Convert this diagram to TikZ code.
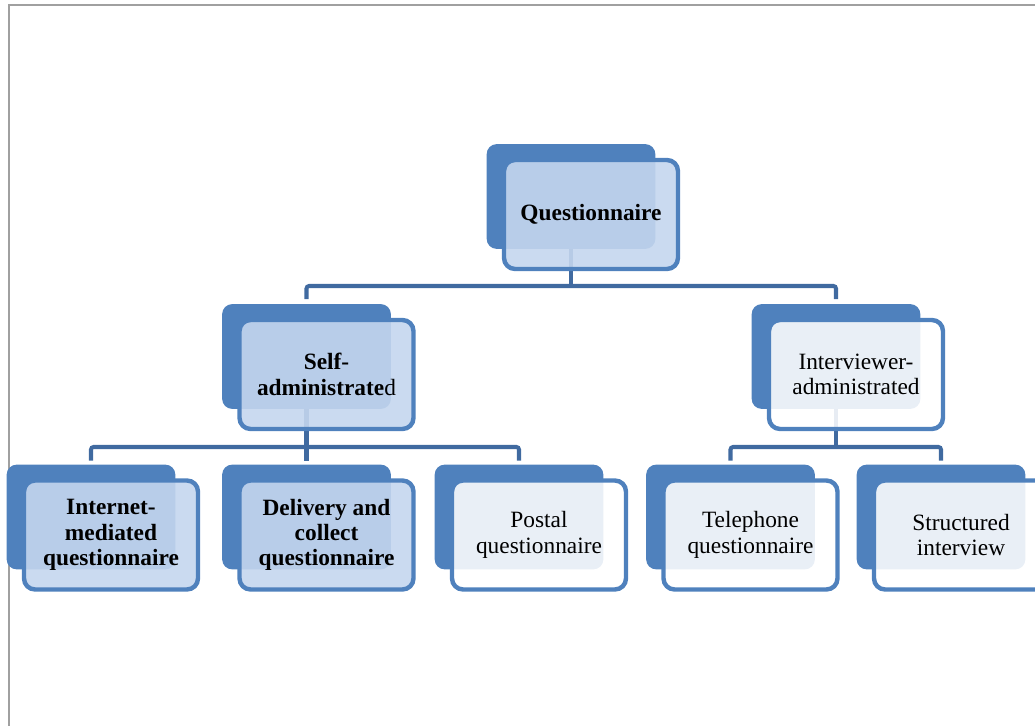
\documentclass[tikz,border=0pt]{standalone}
\usepackage{fontspec}
\setmainfont{Liberation Serif}
\usetikzlibrary{calc,positioning}
\definecolor{boxblue}{RGB}{79,129,189}
\definecolor{linkblue}{RGB}{64,106,160}
\definecolor{paleblue}{RGB}{196,214,238}
\definecolor{framegray}{RGB}{160,160,160}
\tikzset{
	back/.style={fill=boxblue, rounded corners=0.2cm, minimum width=3.36cm, minimum height=2.08cm, inner sep=0pt},
	front/.style={draw=boxblue, line width=2.5pt, rounded corners=0.22cm, minimum width=3.48cm, minimum height=2.18cm, inner sep=0pt, align=center, font=\fontsize{13.3}{14.6}\selectfont, text opacity=1, draw opacity=1},
	strong/.style={front, fill=paleblue, fill opacity=0.9, font=\fontsize{13.3}{14.4}\selectfont\bfseries},
	plain/.style={front, fill=white, fill opacity=0.88},
	link/.style={draw=linkblue, line width=2.3pt, rounded corners=1.5pt},
}

\begin{document}
\begin{tikzpicture}[x=0.02cm, y=-0.02cm]
			%%%%% START %%%%%
			\useasboundingbox (0, 0) rectangle (1035, 726);
			\clip (0, 0) rectangle (1035, 726);
			\draw[framegray, line width=1.2pt] (9, 726) -- (9, 5) -- (1035, 5);
			
			\coordinate (busA) at (0, 286);
			\coordinate (busB) at (0, 447);
			
			% back plates
			\node[back] (quest) at (571, 196.5) {};
			\node[back] (selfadm) at (306.5, 356.5) {};
			\node[back] (interadm) at (836, 356.5) {};
			\node[back] (internet) at (91, 517) {};
			\node[back] (delivery) at (306.5, 517) {};
			\node[back] (postal) at (519, 517) {};
			\node[back] (phone) at (730.5, 517) {};
			\node[back] (struct) at (941, 517) {};
			
			% connectors
			\draw[link] (quest.south) -- (quest.south |- busA);
			\draw[link] ($(selfadm.north)+(0, -5)$) |- (quest.south |- busA) -| ($(interadm.north)+(0, -5)$);
			\draw[link] (selfadm.south) -- (selfadm.south |- busB);
			\draw[link] ($(internet.north)+(0, -4)$) |- (selfadm.south |- busB) -| ($(postal.north)+(0, -4)$);
			\draw[link] ($(delivery.north)+(0, -4)$) -- (delivery.north |- busB);
			\draw[link] (interadm.south) -- (interadm.south |- busB);
			\draw[link] ($(phone.north)+(0, -4)$) |- (interadm.south |- busB) -| ($(struct.north)+(0, -4)$);
			
			% back plates again, over the connectors
			\foreach \n in {quest, selfadm, interadm, internet, delivery, postal, phone, struct}
				\fill[boxblue, rounded corners=0.2cm] (\n.south west) rectangle (\n.north east);
			
			% front cards
			\node[strong] (questtxt) at ($(quest)+(20, 18)$) {Questionnaire};
			\node[strong, font=\fontsize{13.3}{14.4}\selectfont] (selftxt) at ($(selfadm)+(20, 18)$) {\textbf{Self-}\\\textbf{administrate}d};
			\node[plain] (intertxt) at ($(interadm)+(20, 18)$) {Interviewer-\\administrated};
			\node[strong] (internettxt) at ($(internet)+(20, 18)$) {Internet-\\mediated\\questionnaire};
			\node[strong] (deliverytxt) at ($(delivery)+(20, 18)$) {Delivery and\\collect\\questionnaire};
			\node[plain] (postaltxt) at ($(postal)+(20, 18)$) {Postal\\questionnaire};
			\node[plain] (phonetxt) at ($(phone)+(20, 18)$) {Telephone\\questionnaire};
			\node[plain] (structtxt) at ($(struct)+(20, 18)$) {Structured\\interview};
			%%%%% END %%%%%
\end{tikzpicture}
\end{document}
